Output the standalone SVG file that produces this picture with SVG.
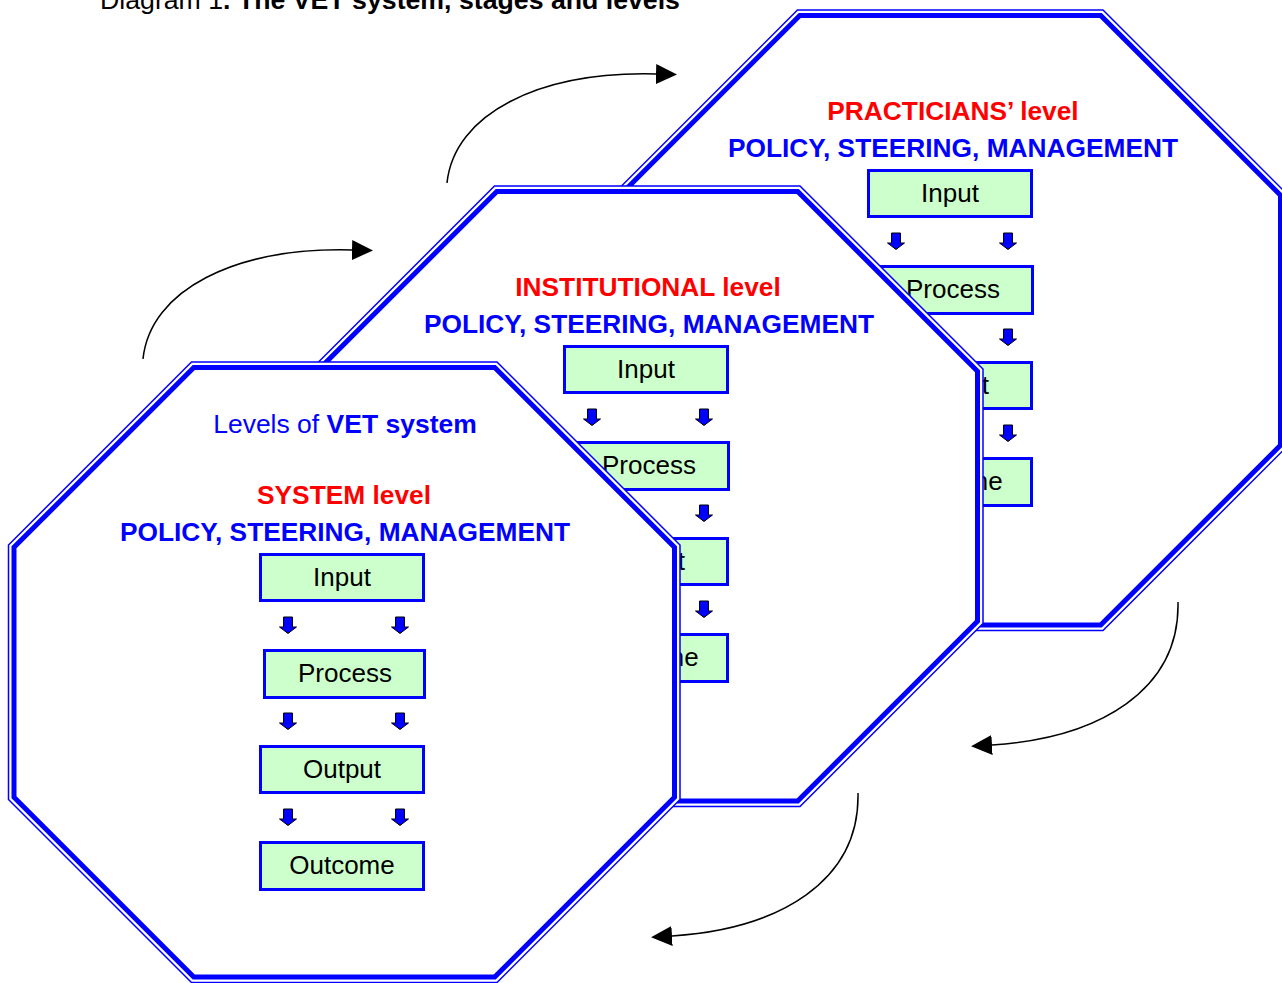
<svg xmlns="http://www.w3.org/2000/svg" width="1282" height="983" viewBox="0 0 1282 983">
<style>
.oo{fill:#fff;stroke:#0000ff;stroke-width:1.5}
.oi{fill:none;stroke:#0000ff;stroke-width:5}
.box{fill:#ccffcc;stroke:#0000ff;stroke-width:3}
.t{font-family:"Liberation Sans",Arial,sans-serif}
.lbl{font-size:26px;fill:#000;text-anchor:middle}
.hd{font-size:26.3px;font-weight:bold;text-anchor:middle}
.red{fill:#ff0000}
.blue{fill:#0000ff}
.sa{fill:#0000ff;stroke:#000;stroke-width:1}
.conn{fill:none;stroke:#000;stroke-width:1.5}
</style>
<defs>
<g id="oct">
<polygon class="oo" points="183,0 488.5,0 671.5,183 671.5,437.5 488.5,620.5 183,620.5 0,437.5 0,183"/>
<polygon class="oi" points="185.3,5.5 486.2,5.5 666,185.3 666,435.2 486.2,615 185.3,615 5.5,435.2 5.5,185.3"/>
</g>
<path id="sa" class="sa" d="M-4.5,0 H4.5 V10 H8.5 L0,16.5 L-8.5,10 H-4.5 Z"/>
<g id="stages">
<rect class="box" x="260.5" y="554.5" width="163" height="46"/>
<rect class="box" x="264.5" y="650.5" width="160" height="47"/>
<rect class="box" x="260.5" y="746.5" width="163" height="46"/>
<rect class="box" x="260.5" y="842.5" width="163" height="47"/>
<text class="t lbl" x="342" y="586">Input</text>
<text class="t lbl" x="345" y="682">Process</text>
<text class="t lbl" x="342" y="778">Output</text>
<text class="t lbl" x="342" y="874">Outcome</text>
<use href="#sa" x="288" y="617"/><use href="#sa" x="400" y="617"/>
<use href="#sa" x="288" y="713"/><use href="#sa" x="400" y="713"/>
<use href="#sa" x="288" y="809"/><use href="#sa" x="400" y="809"/>
</g>
<marker id="ah" viewBox="0 0 21 20" refX="0" refY="10" markerWidth="21" markerHeight="20" markerUnits="userSpaceOnUse" orient="auto">
<path d="M0,0 L21,10 L0,20 Z" fill="#000"/>
</marker>
</defs>
<rect width="1282" height="983" fill="#fff"/>
<text class="t" x="100" y="9" font-size="26.7" fill="#000">Diagram 1<tspan font-weight="bold">. The VET system, stages and levels</tspan></text>
<g id="practicians">
<use href="#oct" transform="translate(614.5,10)"/>
<g transform="translate(608,-384)">
<text class="t hd red" x="345" y="504">PRACTICIANS’ level</text>
<text class="t hd blue" x="345" y="541">POLICY, STEERING, MANAGEMENT</text>
<use href="#stages"/>
</g>
</g>
<g id="institutional">
<use href="#oct" transform="translate(311.5,186)"/>
<g transform="translate(304,-208)">
<text class="t hd red" x="344" y="504">INSTITUTIONAL level</text>
<text class="t hd blue" x="345" y="541">POLICY, STEERING, MANAGEMENT</text>
<use href="#stages"/>
</g>
</g>
<g id="system">
<use href="#oct" transform="translate(8.5,362)"/>
<text class="t blue" x="345" y="433" font-size="26.5" text-anchor="middle">Levels of <tspan font-weight="bold">VET system</tspan></text>
<text class="t hd red" x="344" y="504">SYSTEM level</text>
<text class="t hd blue" x="345" y="541">POLICY, STEERING, MANAGEMENT</text>
<use href="#stages"/>
</g>
<g id="connectors">
<path class="conn" marker-end="url(#ah)" d="M143,359 C150,290 235,247 352,250"/>
<path class="conn" marker-end="url(#ah)" d="M447,183 C454,114 539,71 656,74"/>
<path class="conn" marker-end="url(#ah)" d="M1178,602 C1180,690 1100,738 992,745"/>
<path class="conn" marker-end="url(#ah)" d="M858,793 C860,881 780,929 672,936"/>
</g>
</svg>
